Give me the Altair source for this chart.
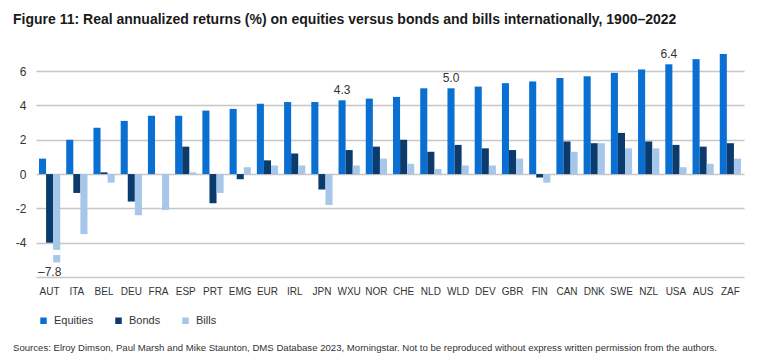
import altair as alt
import pandas as pd

countries = ["AUT", "ITA", "BEL", "DEU", "FRA", "ESP", "PRT", "EMG", "EUR", "IRL",
             "JPN", "WXU", "NOR", "CHE", "NLD", "WLD", "DEV", "GBR", "FIN", "CAN",
             "DNK", "SWE", "NZL", "USA", "AUS", "ZAF"]
equities = [0.9, 2.0, 2.7, 3.1, 3.4, 3.4, 3.7, 3.8, 4.1, 4.2,
            4.2, 4.3, 4.4, 4.5, 5.0, 5.0, 5.1, 5.3, 5.4, 5.6,
            5.7, 5.9, 6.1, 6.4, 6.7, 7.0]
bonds = [-4.0, -1.1, 0.1, -1.6, 0.0, 1.6, -1.7, -0.3, 0.8, 1.2,
         -0.9, 1.4, 1.6, 2.0, 1.3, 1.7, 1.5, 1.4, -0.2, 1.9,
         1.8, 2.4, 1.9, 1.7, 1.6, 1.8]
bills = [-7.8, -3.5, -0.5, -2.4, -2.1, 0.1, -1.1, 0.4, 0.5, 0.5,
         -1.8, 0.5, 0.9, 0.6, 0.3, 0.5, 0.5, 0.9, -0.5, 1.3,
         1.8, 1.5, 1.5, 0.4, 0.6, 0.9]
series_names = ["Equities", "Bonds", "Bills"]
colors = ["#0a6fd2", "#0b3a6c", "#a6c6ea"]
labelled = ["WXU", "WLD", "USA"]
y_ticks = [-6, -4, -2, 0, 2, 4, 6]

rows = []
for i, c in enumerate(countries):
    for s, vals in zip(series_names, [equities, bonds, bills]):
        rows.append({"country": c, "series": s, "value": vals[i]})
df = pd.DataFrame(rows)

FONT = "Liberation Sans, Arial, sans-serif"
CUT = -5.15

x_axis = alt.Axis(title=None, labelAngle=0, ticks=False, domain=False,
                  grid=False, labelPadding=9, labelFontSize=10,
                  labelColor="#333333", labelFont=FONT)
y_axis = alt.Axis(values=y_ticks, title=None, ticks=False,
                  domain=False, grid=True, gridColor="#c6c6c6", gridWidth=1.5,
                  labelPadding=10, labelFontSize=12, labelColor="#333333",
                  labelFont=FONT, labelOverlap=False,
                  labelExpr="datum.value == -6 ? '' : '' + datum.value")
x_scale = alt.Scale(paddingInner=0.22, paddingOuter=0.11)
x_enc = alt.X("country:N", sort=countries, scale=x_scale, axis=x_axis)
xo_enc = alt.XOffset("series:N", sort=series_names,
                     scale=alt.Scale(domain=series_names, paddingInner=0, paddingOuter=0))
y_scale = alt.Scale(domain=[-6, 7], nice=False, zero=True)


def y_enc(field):
    return alt.Y(field, scale=y_scale, axis=y_axis, title=None)


base = alt.Chart(df).transform_calculate(
    plot_value=f"max(datum.value, {CUT})"
)

bars = base.mark_bar().encode(
    x=x_enc,
    xOffset=xo_enc,
    y=y_enc("plot_value:Q"),
    color=alt.Color("series:N", sort=series_names,
                    scale=alt.Scale(domain=series_names, range=colors),
                    legend=alt.Legend(title=None, orient="none", direction="horizontal",
                                      legendX=2, legendY=261, symbolType="square",
                                      symbolSize=42, symbolStrokeWidth=0,
                                      labelFontSize=11, labelFont=FONT,
                                      labelColor="#333333", labelOffset=5,
                                      columnPadding=19, padding=0)),
)

brk = base.transform_filter(f"datum.value < {CUT}").transform_calculate(
    b1="-4.42", b2="-4.72"
).mark_bar(color="white").encode(
    x=x_enc,
    xOffset=xo_enc,
    y=y_enc("b1:Q"),
    y2="b2:Q",
)

top_labels = base.transform_filter(
    alt.FieldOneOfPredicate(field="country", oneOf=labelled)
).transform_filter("datum.series == 'Equities'").transform_calculate(
    txt="format(datum.value, '.1f')"
).mark_text(fontSize=12, font=FONT, color="#333333", dy=-10, baseline="middle").encode(
    x=x_enc,
    xOffset=xo_enc,
    y=y_enc("value:Q"),
    text="txt:N",
)

low_label = base.transform_filter(f"datum.value < {CUT}").transform_calculate(
    txt="'\u2013' + format(abs(datum.value), '.1f')"
).mark_text(fontSize=12, font=FONT, color="#333333", dy=10, dx=-7, baseline="middle").encode(
    x=x_enc,
    xOffset=xo_enc,
    y=y_enc("plot_value:Q"),
    text="txt:N",
)

source = alt.Chart(pd.DataFrame({"t": [
    "Sources: Elroy Dimson, Paul Marsh and Mike Staunton, DMS Database 2023, Morningstar. "
    "Not to be reproduced without express written permission from the authors."]})).mark_text(
    align="left", baseline="middle", fontSize=9.6, font=FONT, color="#333333"
).encode(x=alt.value(-23), y=alt.value(294), text="t:N")

chart = alt.layer(bars, brk, top_labels, low_label, source).properties(
    width=708, height=223,
    title=alt.TitleParams(
        "Figure 11: Real annualized returns (%) on equities versus bonds and bills internationally, 1900\u20132022",
        anchor="start", frame="bounds", font=FONT, fontSize=14, fontWeight="bold",
        color="#1a1a1a", offset=21, dy=0),
    background="white",
).configure_view(stroke=None)

chart.save("out.html", embed_options={"renderer": "svg", "actions": False})
